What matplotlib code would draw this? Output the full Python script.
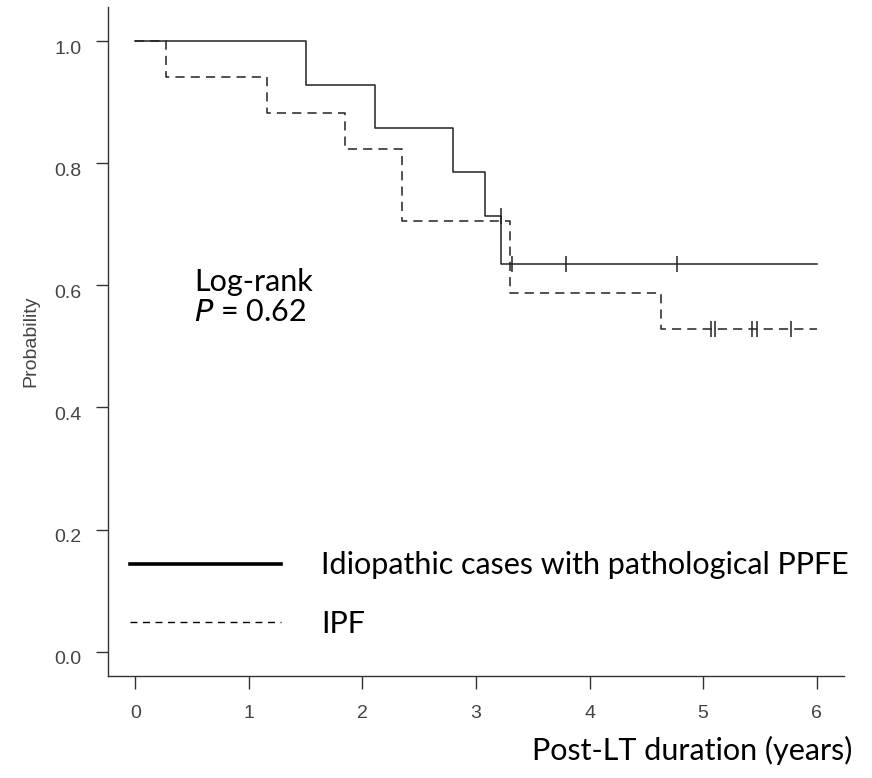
import matplotlib
matplotlib.use("Agg")
import matplotlib.pyplot as plt
from matplotlib.lines import Line2D
from matplotlib.transforms import ScaledTranslation

# Kaplan-Meier step data (time in years, survival probability)
ppfe_times = [0.0, 1.50, 2.11, 2.80, 3.08, 3.22, 6.0]
ppfe_surv = [1.0, 0.929, 0.857, 0.786, 0.714, 0.635, 0.635]
ppfe_cens_t = [3.22, 3.32, 3.79, 4.77]
ppfe_cens_s = [0.714, 0.635, 0.635, 0.635]

ipf_times = [0.0, 0.27, 1.16, 1.85, 2.35, 3.30, 4.63, 6.0]
ipf_surv = [1.0, 0.941, 0.882, 0.824, 0.706, 0.588, 0.529, 0.529]
ipf_cens_t = [5.07, 5.10, 5.43, 5.47, 5.77]
ipf_cens_s = [0.529, 0.529, 0.529, 0.529, 0.529]

x_ticks = [0, 1, 2, 3, 4, 5, 6]
y_ticks = [0.0, 0.2, 0.4, 0.6, 0.8, 1.0]
y_tick_labels = ["0.0", "0.2", "0.4", "0.6", "0.8", "1.0"]
legend_labels = ["Idiopathic cases with pathological PPFE", "IPF"]

big_font = ["Lato", "DejaVu Sans"]
small_font = ["Liberation Sans", "DejaVu Sans"]
BIG = 22
SMALL = 14

fig = plt.figure(figsize=(8.72, 7.78), dpi=100)
ax = fig.add_axes([108/872, 1-676/778, (844-108)/872, (676-7)/778])

line_col = "#222222"
ax.step(ppfe_times, ppfe_surv, where="post", color=line_col, lw=1.1)
ax.step(ipf_times, ipf_surv, where="post", color=line_col, lw=1.1,
        linestyle=(0, (6, 4)))
ax.plot(ppfe_cens_t, ppfe_cens_s, linestyle="none", marker="|", ms=11,
        mew=1.1, color=line_col)
ax.plot(ipf_cens_t, ipf_cens_s, linestyle="none", marker="|", ms=11,
        mew=1.1, color=line_col)

ax.set_xlim(-0.24, 6.24)
ax.set_ylim(-0.04, 1.056)
for s in ["top", "right"]:
    ax.spines[s].set_visible(False)
for s in ["left", "bottom"]:
    ax.spines[s].set_color("#333333")
    ax.spines[s].set_linewidth(1.0)

ax.set_xticks(x_ticks)
ax.set_xticklabels([str(t) for t in x_ticks], fontfamily=small_font,
                   fontsize=SMALL, color="#444444")
ax.set_yticks(y_ticks)
ax.set_yticklabels(y_tick_labels, fontfamily=small_font, fontsize=SMALL,
                   color="#444444")
ax.tick_params(axis="both", direction="out", length=9, width=1.0,
               color="#333333")
ax.tick_params(axis="x", pad=12)
ax.tick_params(axis="y", pad=10)
offset = ScaledTranslation(0, -6/100, fig.dpi_scale_trans)
for lab in ax.get_yticklabels():
    lab.set_transform(lab.get_transform() + offset)

ax.set_ylabel("Probability", fontfamily=small_font, fontsize=SMALL,
              color="#444444", labelpad=14)
ax.yaxis.set_label_coords(-(108-31)/736, 0.5)
ax.yaxis.label.set_va("center")

ax.text(0.52, 0.606, "Log-rank", fontfamily=big_font, fontsize=BIG,
        ha="left", va="center", color="black")
ax.text(0.52, 0.557, r"$\it{P}$ = 0.62", fontfamily=big_font, fontsize=BIG,
        ha="left", va="center", color="black")

handles = [Line2D([], [], color="black", lw=2.6),
           Line2D([], [], color="black", lw=1.0, linestyle=(0, (5, 4)))]
leg = ax.legend(handles, legend_labels, loc="lower left",
                bbox_to_anchor=(22/736, 38/669), frameon=False,
                prop={"family": big_font, "size": BIG},
                handlelength=4.94, handletextpad=1.31, labelspacing=1.0,
                borderpad=0, borderaxespad=0)

fig.text(852/872, 1-750/778, "Post-LT duration (years)", fontfamily=big_font,
         fontsize=BIG, ha="right", va="center", color="black")

fig.savefig("out.png", dpi=100, facecolor="white")
